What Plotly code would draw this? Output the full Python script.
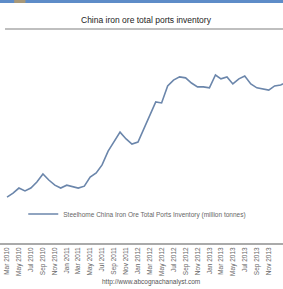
import plotly.graph_objects as go
import pandas as pd

months = [d.strftime("%Y-%m-%d") for d in pd.date_range("2010-03-01", periods=48, freq="MS")]
inventory = [62.0, 63.2, 64.8, 63.9, 64.8, 66.7, 69.2, 67.3, 65.7, 64.8, 65.7, 65.1,
             64.8, 65.4, 68.2, 69.5, 72.0, 76.3, 79.1, 82.2, 80.1, 78.5, 79.1, 83.5,
             87.5, 91.6, 91.3, 96.6, 98.4, 99.4, 99.1, 97.5, 96.3, 96.3, 96.0, 100.0,
             98.8, 99.4, 97.2, 98.8, 99.7, 97.2, 96.0, 95.6, 95.3, 96.6, 96.9, 97.8]
tick_dates = months[::2]
tick_labels = [pd.Timestamp(d).strftime("%b %Y") for d in tick_dates]
series_name = "Steelhome China Iron Ore Total Ports Inventory (million tonnes)"
title = "China iron ore total ports inventory"
source = "http://www.abcognachanalyst.com"

fig = go.Figure()
fig.add_trace(go.Scatter(x=months, y=inventory, mode="lines", name=series_name,
                         line=dict(color="#6b86ab", width=1.6)))

fig.update_layout(
    width=283, height=289,
    margin=dict(l=0, r=0, t=30, b=46, autoexpand=False),
    paper_bgcolor="white", plot_bgcolor="white",
    showlegend=True,
    legend=dict(x=0.485, xanchor="center", y=(243 - 214) / 213, yanchor="middle",
                orientation="h", font=dict(size=6.5, color="#666", family="Liberation Sans"),
                bgcolor="rgba(0,0,0,0)", itemwidth=30),
    xaxis=dict(type="date", range=["2010-01-24", "2014-01-13"], automargin=False,
               tickvals=tick_dates, ticktext=tick_labels, tickangle=-90,
               tickfont=dict(size=6.5, color="#666", family="Liberation Sans"),
               showgrid=False, showline=True, linecolor="#aaaaaa", linewidth=1.5,
               ticks="", zeroline=False),
    yaxis=dict(range=[47.7, 114.0], visible=False, automargin=False),
)

def py(ypix):
    return (243 - ypix) / 213.0

fig.add_shape(type="rect", xref="paper", yref="paper", x0=0, x1=1, y0=py(3), y1=py(0),
              fillcolor="#5e8cc8", line=dict(width=0), layer="above")
fig.add_shape(type="rect", xref="paper", yref="paper", x0=0.05, x1=0.09, y0=py(3), y1=py(0),
              fillcolor="#a89878", line=dict(width=0), layer="above")
fig.add_shape(type="line", xref="paper", yref="paper", x0=5 / 283, x1=1, y0=py(29), y1=py(29),
              line=dict(color="#aaaaaa", width=1.5))

fig.add_annotation(text=title, xref="paper", yref="paper", x=146 / 283, y=py(20),
                   showarrow=False, font=dict(size=8.5, color="#222", family="Liberation Sans"),
                   xanchor="center", yanchor="middle")
fig.add_annotation(text=source, xref="paper", yref="paper", x=151 / 283, y=py(282),
                   showarrow=False, font=dict(size=6.5, color="#555", family="Liberation Sans"),
                   xanchor="center", yanchor="middle")

fig.write_html("out.html", config={"displayModeBar": False},
               post_script="document.body.style.margin='0';document.body.style.overflow='hidden';")
